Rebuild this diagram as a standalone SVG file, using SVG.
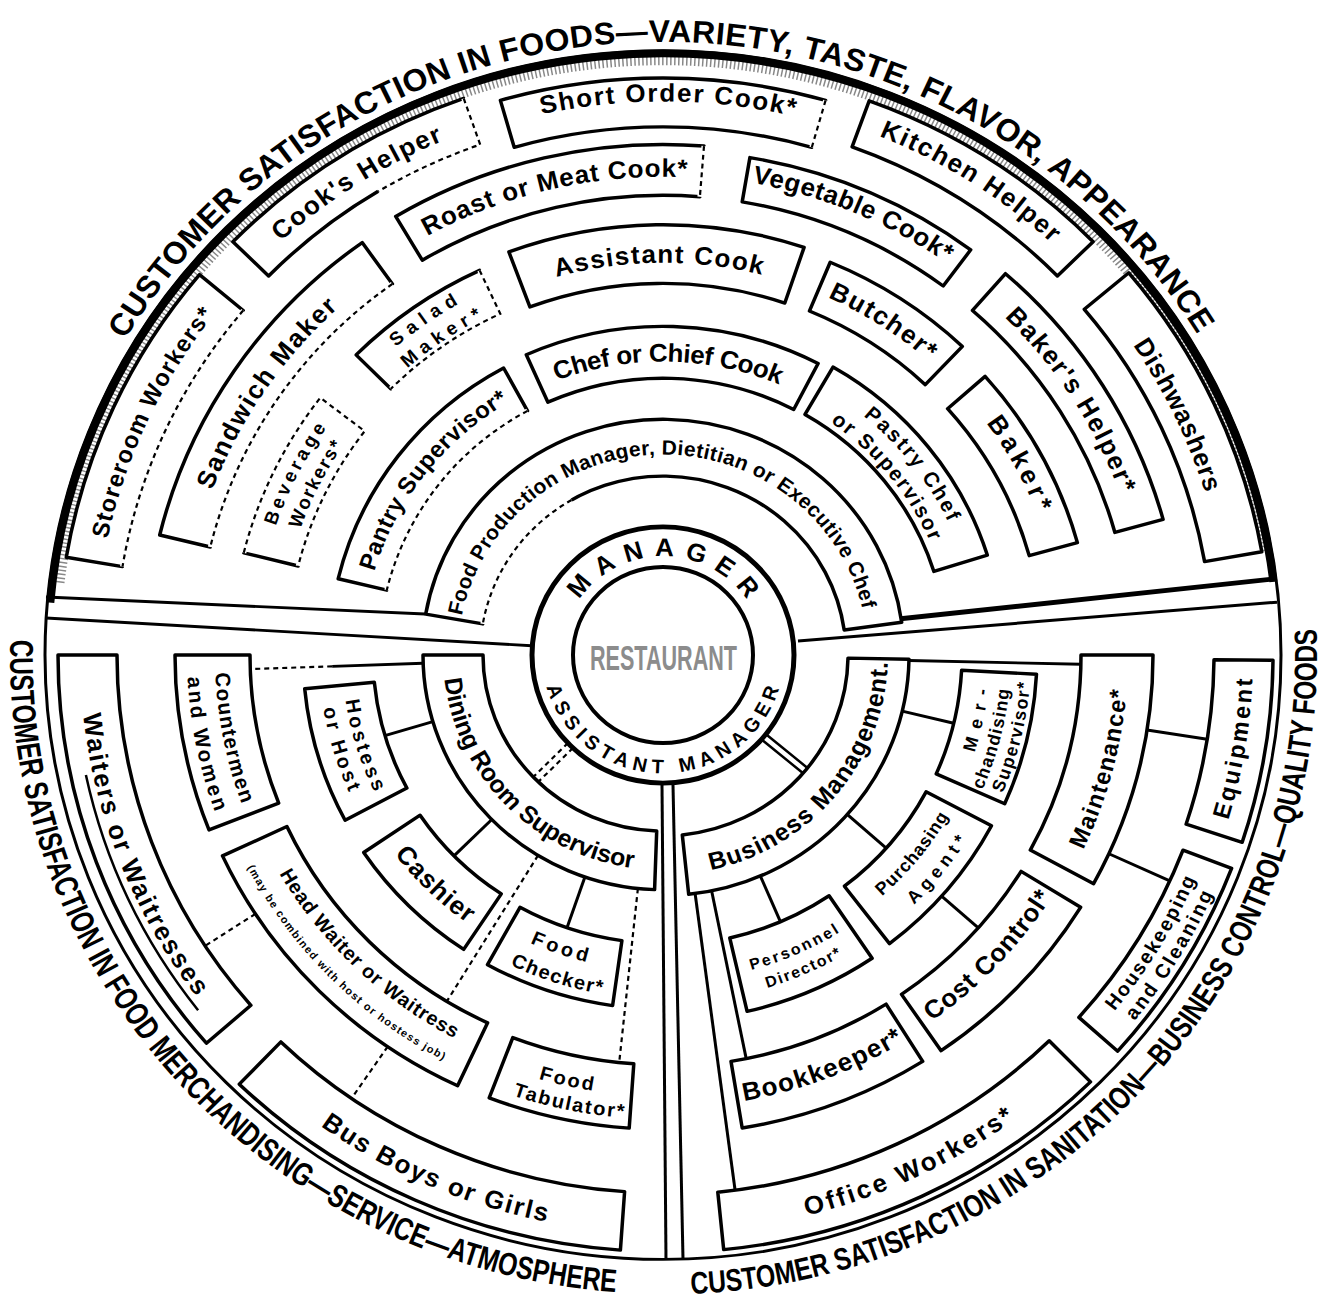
<svg xmlns="http://www.w3.org/2000/svg" width="1337" height="1303" viewBox="0 0 1337 1303">
<style>
.bx{fill:#fff;stroke:#000;stroke-width:3.5;stroke-linejoin:round}
.ln{fill:none;stroke:#000;stroke-width:3}
.dl{fill:none;stroke:#000;stroke-width:2.2;stroke-dasharray:5 4}
.wp{fill:none;stroke:#fff;stroke-width:5}
.t{font-family:"Liberation Sans",Arial,sans-serif;font-weight:bold;fill:#000;text-anchor:middle}
</style>
<defs>
<path id="t101" d="M-101,0 A101,101 0 0 1 101,0"/>
<path id="t205" d="M-205,0 A205,205 0 0 1 205,0"/>
<path id="t291" d="M-291,0 A291,291 0 0 1 291,0"/>
<path id="t300" d="M-300,0 A300,300 0 0 1 300,0"/>
<path id="t301" d="M-301,0 A301,301 0 0 1 301,0"/>
<path id="t316" d="M-316,0 A316,316 0 0 1 316,0"/>
<path id="t385" d="M-385,0 A385,385 0 0 1 385,0"/>
<path id="t389" d="M-389,0 A389,389 0 0 1 389,0"/>
<path id="t401" d="M-401,0 A401,401 0 0 1 401,0"/>
<path id="t409" d="M-409,0 A409,409 0 0 1 409,0"/>
<path id="t413" d="M-413,0 A413,413 0 0 1 413,0"/>
<path id="t481" d="M-481,0 A481,481 0 0 1 481,0"/>
<path id="t486" d="M-486,0 A486,486 0 0 1 486,0"/>
<path id="t489" d="M-489,0 A489,489 0 0 1 489,0"/>
<path id="t491" d="M-491,0 A491,491 0 0 1 491,0"/>
<path id="t566" d="M-566,0 A566,566 0 0 1 566,0"/>
<path id="t567" d="M-567,0 A567,567 0 0 1 567,0"/>
<path id="t568" d="M-568,0 A568,568 0 0 1 568,0"/>
<path id="t570" d="M-570,0 A570,570 0 0 1 570,0"/>
<path id="t573" d="M-573,0 A573,573 0 0 1 573,0"/>
<path id="t627" d="M-627,0 A627,627 0 0 1 627,0"/>
<path id="b121" d="M-121,0 A121,121 0 0 0 121,0"/>
<path id="b220" d="M-220,0 A220,220 0 0 0 220,0"/>
<path id="b225" d="M-225,0 A225,225 0 0 0 225,0"/>
<path id="b321" d="M-321,0 A321,321 0 0 0 321,0"/>
<path id="b323" d="M-323,0 A323,323 0 0 0 323,0"/>
<path id="b327" d="M-327,0 A327,327 0 0 0 327,0"/>
<path id="b330" d="M-330,0 A330,330 0 0 0 330,0"/>
<path id="b334" d="M-334,0 A334,334 0 0 0 334,0"/>
<path id="b337" d="M-337,0 A337,337 0 0 0 337,0"/>
<path id="b344" d="M-344,0 A344,344 0 0 0 344,0"/>
<path id="b348" d="M-348,0 A348,348 0 0 0 348,0"/>
<path id="b352" d="M-352,0 A352,352 0 0 0 352,0"/>
<path id="b356" d="M-356,0 A356,356 0 0 0 356,0"/>
<path id="b358" d="M-358,0 A358,358 0 0 0 358,0"/>
<path id="b368" d="M-368,0 A368,368 0 0 0 368,0"/>
<path id="b444" d="M-444,0 A444,444 0 0 0 444,0"/>
<path id="b448" d="M-448,0 A448,448 0 0 0 448,0"/>
<path id="b451" d="M-451,0 A451,451 0 0 0 451,0"/>
<path id="b461" d="M-461,0 A461,461 0 0 0 461,0"/>
<path id="b463" d="M-463,0 A463,463 0 0 0 463,0"/>
<path id="b465" d="M-465,0 A465,465 0 0 0 465,0"/>
<path id="b469" d="M-469,0 A469,469 0 0 0 469,0"/>
<path id="b475" d="M-475,0 A475,475 0 0 0 475,0"/>
<path id="b476" d="M-476,0 A476,476 0 0 0 476,0"/>
<path id="b580" d="M-580,0 A580,580 0 0 0 580,0"/>
<path id="b583" d="M-583,0 A583,583 0 0 0 583,0"/>
<path id="b590" d="M-590,0 A590,590 0 0 0 590,0"/>
<path id="b591" d="M-591,0 A591,591 0 0 0 591,0"/>
<path id="b602" d="M-602,0 A602,602 0 0 0 602,0"/>
<path id="b653" d="M-653,0 A653,653 0 0 0 653,0"/>
<path id="b654" d="M-654,0 A654,654 0 0 0 654,0"/>
</defs>
<rect width="1337" height="1303" fill="#fff"/>
<g transform="translate(663 655) scale(1 0.978)">

<g id="frame">
<path d="M-603.5,-74 A608,608 0 0 1 598.8,-105.4" fill="none" stroke="#888" stroke-width="10" stroke-dasharray="1.5 2.5"/>
<circle r="618" class="ln"/>
<path d="M-612.7,-53.6 A615,615 0 0 1 610.4,-74.9" fill="none" stroke="#000" stroke-width="8"/>
<path class="ln" d="M-617,-59.3 L-238,-41.9"/>
<path class="ln" d="M-617,-37.8 L-127,-9.2"/>
<path class="ln" style="stroke-width:5" d="M200,-33 L613,-78"/>
<path class="ln" d="M135,-14.3 L614,-54"/>
<path class="ln" d="M-1,133 L3,618"/>
<path class="ln" d="M10,133 L20,617.7"/>
<text class="t" font-size="32" transform="rotate(-0.3)"><textPath href="#t627" startOffset="50%" textLength="1286" lengthAdjust="spacing">CUSTOMER SATISFACTION IN FOODS—VARIETY, TASTE, FLAVOR, APPEARANCE</textPath></text>
<text class="t" font-size="33" transform="rotate(47.75)"><textPath href="#b653" startOffset="50%" textLength="994" lengthAdjust="spacingAndGlyphs">CUSTOMER SATISFACTION IN FOOD MERCHANDISING—SERVICE—ATMOSPHERE</textPath></text>
<text class="t" font-size="32" transform="rotate(-47.4)"><textPath href="#b654" startOffset="50%" textLength="1026" lengthAdjust="spacingAndGlyphs">CUSTOMER SATISFACTION IN SANITATION—BUSINESS CONTROL—QUALITY FOODS</textPath></text>
</g>

<g id="connectors">
<path class="ln" d="M-239.9,8.4 L-330.8,11.6"/>
<path class="dl" d="M-330.8,11.6 L-412.7,14.4"/>
<path class="ln" d="M-230.1,68.2 L-278.1,82.4"/>
<path class="ln" d="M-171.2,168.2 L-209,205.4"/>
<path class="ln" d="M-78.1,226.9 L-96,278.9"/>
<path class="dl" d="M-125,204.9 L-216.2,354.2"/>
<path class="dl" d="M-25.1,238.7 L-43.8,416.7"/>
<path class="dl" d="M-407.6,264.7 L-457.9,297.4"/>
<path class="dl" d="M-275.3,400.5 L-311.5,453.3"/>
<path class="dl" d="M-90.1,95.1 L-124.8,129.8 M-95.1,90.1 L-129.8,124.8"/>
<path class="ln" d="M245.9,5.6 L417.9,9.5"/>
<path class="ln" d="M239.2,57.4 L290.7,69.8"/>
<path class="ln" d="M184.2,163 L223.2,197.5"/>
<path class="ln" d="M97.3,225.9 L117.5,272.8"/>
<path class="ln" d="M278.6,246.5 L315.3,279"/>
<path class="ln" d="M484,76.7 L544.2,86.2"/>
<path class="ln" d="M445.9,203.2 L506.8,231"/>
<path class="ln" d="M48.6,241.1 L83.2,412.7"/>
<path class="ln" d="M32.1,243.9 L72.1,547.3"/>
<path class="ln" style="stroke-width:2.5" d="M103,81 L144.5,115.5 M98.6,86.4 L140.1,120.9"/>
</g>

<g id="n-storeroom"><path class="bx" d="M-596.7,-99.9 A605,605 0 0 1 -463.5,-388.9 L-419.8,-352.2 A548,548 0 0 0 -540.5,-90.4 Z"/>
<path class="wp" d="M-419.8,-352.2 A548,548 0 0 0 -540.5,-90.4"/><path class="dl" d="M-419.8,-352.2 A548,548 0 0 0 -540.5,-90.4"/>
<text class="t" font-size="24" transform="rotate(-65.1)"><textPath href="#t568" startOffset="50%" textLength="255" lengthAdjust="spacing">Storeroom Workers*</textPath></text></g>

<g id="n-cookshelper"><path class="bx" d="M-430.1,-422.6 A603,603 0 0 1 -199.3,-569.1 L-182.8,-521.9 A553,553 0 0 0 -394.4,-387.6 Z"/>
<path class="wp" d="M-199.3,-569.1 L-182.8,-521.9 A553,553 0 0 0 -284.8,-474"/><path class="dl" d="M-199.3,-569.1 L-182.8,-521.9 A553,553 0 0 0 -284.8,-474"/>
<text class="t" font-size="26" transform="rotate(-32.4)"><textPath href="#t570" startOffset="50%" textLength="193" lengthAdjust="spacing">Cook's Helper</textPath></text></g>

<g id="n-shortorder"><path class="bx" d="M-162.6,-567.1 A590,590 0 0 1 162.6,-567.1 L148.8,-519.1 A540,540 0 0 0 -148.8,-519.1 Z"/>
<path class="wp" d="M162.6,-567.1 L148.8,-519.1"/><path class="dl" d="M162.6,-567.1 L148.8,-519.1"/>
<text class="t" font-size="26" transform="rotate(0.5)"><textPath href="#t566" startOffset="50%" textLength="255" lengthAdjust="spacing">Short Order Cook*</textPath></text></g>

<g id="n-kitchenhelper"><path class="bx" d="M206.2,-566.6 A603,603 0 0 1 430.1,-422.6 L394.4,-387.6 A553,553 0 0 0 189.1,-519.6 Z"/>
<text class="t" font-size="26" transform="rotate(32.4)"><textPath href="#t573" startOffset="50%" textLength="205" lengthAdjust="spacing">Kitchen Helper</textPath></text></g>

<g id="n-dishwashers"><path class="bx" d="M465.8,-390.8 A608,608 0 0 1 598.8,-105.6 L541.6,-95.5 A550,550 0 0 0 421.3,-353.5 Z"/>
<text class="t" font-size="26" transform="rotate(64.5)"><textPath href="#t567" startOffset="50%" textLength="168" lengthAdjust="spacing">Dishwashers</textPath></text></g>

<g id="n-sandwich"><path class="bx" d="M-503.3,-122.7 A518,518 0 0 1 -300.8,-421.7 L-270.6,-379.4 A466,466 0 0 0 -452.7,-110.4 Z"/>
<path class="wp" d="M-270.6,-379.4 A466,466 0 0 0 -452.7,-110.4"/><path class="dl" d="M-270.6,-379.4 A466,466 0 0 0 -452.7,-110.4"/>
<text class="t" font-size="26" transform="rotate(-56)"><textPath href="#t481" startOffset="50%" textLength="227" lengthAdjust="spacing">Sandwich Maker</textPath></text></g>

<g id="n-roast"><path class="bx" d="M-267.3,-448.4 A522,522 0 0 1 41,-520.4 L36.9,-468.6 A470,470 0 0 0 -240.7,-403.7 Z"/>
<path class="wp" d="M41,-520.4 L36.9,-468.6"/><path class="dl" d="M41,-520.4 L36.9,-468.6"/>
<text class="t" font-size="26" transform="rotate(-13)"><textPath href="#t489" startOffset="50%" textLength="270" lengthAdjust="spacing">Roast or Meat Cook*</textPath></text></g>

<g id="n-vegetable"><path class="bx" d="M86.9,-508.6 A516,516 0 0 1 307.7,-414.3 L280.2,-377.3 A470,470 0 0 0 79.2,-463.3 Z"/>
<text class="t" font-size="26" transform="rotate(22.8)"><textPath href="#t491" startOffset="50%" textLength="212" lengthAdjust="spacing">Vegetable Cook*</textPath></text></g>

<g id="n-bakershelper"><path class="bx" d="M342.5,-389.9 A519,519 0 0 1 500.1,-138.7 L451.9,-125.3 A469,469 0 0 0 309.5,-352.3 Z"/>
<text class="t" font-size="26" transform="rotate(57.4)"><textPath href="#t486" startOffset="50%" textLength="216" lengthAdjust="spacing">Baker's Helper*</textPath></text></g>

<g id="n-beverage"><path class="bx" d="M-419.2,-104.5 A432,432 0 0 1 -342.7,-263 L-298.3,-228.9 A376,376 0 0 0 -364.8,-91 Z"/>
<path class="wp" d="M-419.2,-104.5 A432,432 0 0 1 -342.7,-263 L-298.3,-228.9 A376,376 0 0 0 -364.8,-91"/><path class="dl" d="M-419.2,-104.5 A432,432 0 0 1 -342.7,-263 L-298.3,-228.9 A376,376 0 0 0 -364.8,-91"/>
<text class="t" font-size="19" transform="rotate(-63.3)"><textPath href="#t409" startOffset="50%" textLength="113" lengthAdjust="spacing">Beverage</textPath></text>
<text class="t" font-size="19" transform="rotate(-63.3)"><textPath href="#t385" startOffset="50%" textLength="96" lengthAdjust="spacing">Workers*</textPath></text></g>

<g id="n-salad"><path class="bx" d="M-306.9,-306.9 A434,434 0 0 1 -183.4,-393.3 L-162.7,-348.9 A385,385 0 0 0 -272.2,-272.2 Z"/>
<path class="wp" d="M-183.4,-393.3 L-162.7,-348.9 A385,385 0 0 0 -272.2,-272.2"/><path class="dl" d="M-183.4,-393.3 L-162.7,-348.9 A385,385 0 0 0 -272.2,-272.2"/>
<text class="t" font-size="19" transform="rotate(-35)"><textPath href="#t413" startOffset="50%" textLength="77" lengthAdjust="spacing">Salad</textPath></text>
<text class="t" font-size="19" transform="rotate(-34.4)"><textPath href="#t389" startOffset="50%" textLength="91" lengthAdjust="spacing">Maker*</textPath></text></g>

<g id="n-assistantcook"><path class="bx" d="M-154.1,-412.1 A440,440 0 0 1 141.1,-416.8 L121.8,-359.9 A380,380 0 0 0 -133.1,-355.9 Z"/>
<text class="t" font-size="26" transform="rotate(-0.6)"><textPath href="#t401" startOffset="50%" textLength="208" lengthAdjust="spacing">Assistant Cook</textPath></text></g>

<g id="n-butcher"><path class="bx" d="M167.2,-401.6 A435,435 0 0 1 299.4,-315.5 L262.3,-276.4 A381,381 0 0 0 146.4,-351.7 Z"/>
<text class="t" font-size="26" transform="rotate(32.8)"><textPath href="#t401" startOffset="50%" textLength="120" lengthAdjust="spacing">Butcher*</textPath></text></g>

<g id="n-baker"><path class="bx" d="M322.1,-284.9 A430,430 0 0 1 414.4,-114.9 L366.2,-101.6 A380,380 0 0 0 284.6,-251.8 Z"/>
<text class="t" font-size="26" transform="rotate(61.2)"><textPath href="#t401" startOffset="50%" textLength="105" lengthAdjust="spacing">Baker*</textPath></text></g>

<g id="n-pantry"><path class="bx" d="M-324.8,-78 A334,334 0 0 1 -159.4,-293.5 L-135.5,-249.6 A284,284 0 0 0 -276.2,-66.3 Z"/>
<path class="wp" d="M-135.5,-249.6 A284,284 0 0 0 -276.2,-66.3"/><path class="dl" d="M-135.5,-249.6 A284,284 0 0 0 -276.2,-66.3"/>
<text class="t" font-size="24" transform="rotate(-52.2)"><textPath href="#t301" startOffset="50%" textLength="224" lengthAdjust="spacing">Pantry Supervisor*</textPath></text></g>

<g id="n-chef"><path class="bx" d="M-136.7,-307 A336,336 0 0 1 155.1,-298 L130.7,-251 A283,283 0 0 0 -115.1,-258.5 Z"/>
<text class="t" font-size="26" transform="rotate(1)"><textPath href="#t300" startOffset="50%" textLength="228" lengthAdjust="spacing">Chef or Chief Cook</textPath></text></g>

<g id="n-pastry"><path class="bx" d="M170,-294.4 A340,340 0 0 1 324.3,-102.2 L270.9,-85.4 A284,284 0 0 0 142,-246 Z"/>
<text class="t" font-size="21" transform="rotate(51.9)"><textPath href="#t316" startOffset="50%" textLength="139" lengthAdjust="spacing">Pastry Chef</textPath></text>
<text class="t" font-size="21" transform="rotate(50.8)"><textPath href="#t291" startOffset="50%" textLength="159" lengthAdjust="spacing">or Supervisor</textPath></text></g>

<g id="n-foodprod"><path class="bx" d="M-237.3,-41.8 A241,241 0 0 1 238.7,-33.5 L181.2,-25.5 A183,183 0 0 0 -180.2,-31.8 Z"/>
<path class="wp" d="M-91.5,-158.5 A183,183 0 0 0 -180.2,-31.8"/><path class="dl" d="M-91.5,-158.5 A183,183 0 0 0 -180.2,-31.8"/>
<text class="t" font-size="21" transform="rotate(-1)"><textPath href="#t205" startOffset="50%" textLength="556" lengthAdjust="spacing">Food Production Manager, Dietitian or Executive Chef</textPath></text></g>

<g id="n-business"><path class="bx" d="M246,4.3 A246,246 0 0 1 25.7,244.7 L19.3,184 A185,185 0 0 0 185,3.2 Z"/>
<text class="t" font-size="25" transform="rotate(-50.2)"><textPath href="#b225" startOffset="50%" textLength="298" lengthAdjust="spacing">Business Management.</textPath></text></g>

<g id="n-merch"><path class="bx" d="M373.5,19.6 A374,374 0 0 1 341.7,152.1 L273.2,121.6 A299,299 0 0 0 298.6,15.6 Z"/>
<text class="t" font-size="18" transform="rotate(-78)"><textPath href="#b327" startOffset="50%" textLength="66" lengthAdjust="spacing">Mer-</textPath></text>
<text class="t" font-size="18" transform="rotate(-75.4)"><textPath href="#b348" startOffset="50%" textLength="107" lengthAdjust="spacing">chandising</textPath></text>
<text class="t" font-size="18" transform="rotate(-76.5)"><textPath href="#b368" startOffset="50%" textLength="117" lengthAdjust="spacing">Supervisor*</textPath></text></g>

<g id="n-purchasing"><path class="bx" d="M328.5,174.6 A372,372 0 0 1 226.5,295.1 L181.4,236.4 A298,298 0 0 0 263.1,139.9 Z"/>
<text class="t" font-size="18" transform="rotate(-50.8)"><textPath href="#b330" startOffset="50%" textLength="106" lengthAdjust="spacing">Purchasing</textPath></text>
<text class="t" font-size="18" transform="rotate(-51.3)"><textPath href="#b358" startOffset="50%" textLength="85" lengthAdjust="spacing">Agent*</textPath></text></g>

<g id="n-personnel"><path class="bx" d="M209.1,310.1 A374,374 0 0 1 84.1,364.4 L66.8,289.4 A297,297 0 0 0 166.1,246.2 Z"/>
<text class="t" font-size="16" transform="rotate(-23.6)"><textPath href="#b334" startOffset="50%" textLength="97" lengthAdjust="spacing">Personnel</textPath></text>
<text class="t" font-size="16" transform="rotate(-23.6)"><textPath href="#b356" startOffset="50%" textLength="82" lengthAdjust="spacing">Director*</textPath></text></g>

<g id="n-maintenance"><path class="bx" d="M490,0 A490,490 0 0 1 430.6,233.8 L367.3,199.5 A418,418 0 0 0 418,0 Z"/>
<text class="t" font-size="24" transform="rotate(-75.1)"><textPath href="#b465" startOffset="50%" textLength="170" lengthAdjust="spacing">Maintenance*</textPath></text></g>

<g id="n-costcontrol"><path class="bx" d="M417.6,258 A491,491 0 0 1 278.1,404.6 L238.5,347 A421,421 0 0 0 358.1,221.2 Z"/>
<text class="t" font-size="26" transform="rotate(-46.6)"><textPath href="#b461" startOffset="50%" textLength="176" lengthAdjust="spacing">Cost Control*</textPath></text></g>

<g id="n-bookkeeper"><path class="bx" d="M259.7,415.5 A490,490 0 0 1 79.2,483.6 L68,415.5 A421,421 0 0 0 223.1,357 Z"/>
<text class="t" font-size="26" transform="rotate(-20.7)"><textPath href="#b463" startOffset="50%" textLength="172" lengthAdjust="spacing">Bookkeeper*</textPath></text></g>

<g id="n-equipment"><path class="bx" d="M610,5.3 A610,610 0 0 1 579.2,191.5 L523.1,173 A551,551 0 0 0 551,4.8 Z"/>
<text class="t" font-size="24" transform="rotate(-80.5)"><textPath href="#b590" startOffset="50%" textLength="147" lengthAdjust="spacing">Equipment</textPath></text></g>

<g id="n-housekeeping"><path class="bx" d="M568.6,218.2 A609,609 0 0 1 454.7,405.1 L415.9,370.5 A557,557 0 0 0 520,199.6 Z"/>
<text class="t" font-size="20" transform="rotate(-58.9)"><textPath href="#b580" startOffset="50%" textLength="158" lengthAdjust="spacing">Housekeeping</textPath></text>
<text class="t" font-size="20" transform="rotate(-58.8)"><textPath href="#b602" startOffset="50%" textLength="152" lengthAdjust="spacing">and Cleaning</textPath></text></g>

<g id="n-office"><path class="bx" d="M427.5,436.5 A611,611 0 0 1 60.7,608 L54.8,549.3 A552,552 0 0 0 386.2,394.4 Z"/>
<text class="t" font-size="26" transform="rotate(-25.3)"><textPath href="#b591" startOffset="50%" textLength="232" lengthAdjust="spacing">Office Workers*</textPath></text></g>

<g id="n-dining"><path class="bx" d="M-8.4,239.9 A240,240 0 0 1 -240,0 L-180,0 A180,180 0 0 0 -6.3,179.9 Z"/>
<text class="t" font-size="25" transform="rotate(45.7)"><textPath href="#b220" startOffset="50%" textLength="291" lengthAdjust="spacing">Dining Room Supervisor</textPath></text></g>

<g id="n-foodchecker"><path class="bx" d="M-50.4,358.5 A362,362 0 0 1 -175.5,316.6 L-143,258 A295,295 0 0 0 -41.1,292.1 Z"/>
<text class="t" font-size="20" transform="rotate(19)"><textPath href="#b323" startOffset="50%" textLength="60" lengthAdjust="spacing">Food</textPath></text>
<text class="t" font-size="20" transform="rotate(17.9)"><textPath href="#b352" startOffset="50%" textLength="97" lengthAdjust="spacing">Checker*</textPath></text></g>

<g id="n-cashier"><path class="bx" d="M-199.3,301 A361,361 0 0 1 -299.3,201.9 L-242.9,163.8 A293,293 0 0 0 -161.7,244.3 Z"/>
<text class="t" font-size="26" transform="rotate(44.2)"><textPath href="#b337" startOffset="50%" textLength="102" lengthAdjust="spacing">Cashier</textPath></text></g>

<g id="n-hostess"><path class="bx" d="M-317.9,169 A360,360 0 0 1 -358.3,34.5 L-288.7,27.8 A290,290 0 0 0 -256.1,136.1 Z"/>
<text class="t" font-size="20" transform="rotate(72.9)"><textPath href="#b321" startOffset="50%" textLength="99" lengthAdjust="spacing">Hostess</textPath></text>
<text class="t" font-size="20" transform="rotate(73.4)"><textPath href="#b344" startOffset="50%" textLength="90" lengthAdjust="spacing">or Host</textPath></text></g>

<g id="n-tabulator"><path class="bx" d="M-33.8,483.8 A485,485 0 0 1 -173.8,452.8 L-150.2,391.2 A419,419 0 0 0 -29.2,418 Z"/>
<text class="t" font-size="20" transform="rotate(12.5)"><textPath href="#b451" startOffset="50%" textLength="56" lengthAdjust="spacing">Food</textPath></text>
<text class="t" font-size="20" transform="rotate(11.6)"><textPath href="#b475" startOffset="50%" textLength="114" lengthAdjust="spacing">Tabulator*</textPath></text></g>

<g id="n-headwaiter"><path class="bx" d="M-205.4,440.5 A486,486 0 0 1 -440.5,205.4 L-376.1,175.4 A415,415 0 0 0 -175.4,376.1 Z"/>
<text class="t" font-size="20" transform="rotate(43.9)"><textPath href="#b444" startOffset="50%" textLength="246" lengthAdjust="spacing">Head Waiter or Waitress</textPath></text>
<text class="t" font-size="11" transform="rotate(45.2)"><textPath href="#b469" startOffset="50%" textLength="282" lengthAdjust="spacing">(may be combined with host or hostess job)</textPath></text></g>

<g id="n-countermen"><path class="bx" d="M-454,178.9 A488,488 0 0 1 -488,0 L-413,0 A413,413 0 0 0 -384.3,151.4 Z"/>
<text class="t" font-size="21" transform="rotate(78.9)"><textPath href="#b448" startOffset="50%" textLength="137" lengthAdjust="spacing">Countermen</textPath></text>
<text class="t" font-size="21" transform="rotate(78.8)"><textPath href="#b476" startOffset="50%" textLength="141" lengthAdjust="spacing">and Women</textPath></text></g>

<g id="n-busboys"><path class="bx" d="M-42.6,608.5 A610,610 0 0 1 -423.7,438.8 L-382.1,395.6 A550,550 0 0 0 -38.4,548.7 Z"/>
<text class="t" font-size="26" transform="rotate(23.4)"><textPath href="#b591" startOffset="50%" textLength="248" lengthAdjust="spacing">Bus Boys or Girls</textPath></text></g>

<g id="n-waiters"><path class="bx" d="M-456.6,396.9 A605,605 0 0 1 -605,0 L-546,0 A546,546 0 0 0 -412.1,358.2 Z"/>
<path class="ln" style="stroke-width:2.5" d="M-577.1,122.7 A590,590 0 0 0 -464.9,363.2"/>
<text class="t" font-size="26" transform="rotate(68.6)"><textPath href="#b583" startOffset="50%" textLength="314" lengthAdjust="spacing">Waiters or Waitresses</textPath></text></g>

<g id="n-manager">
<circle r="131" fill="#fff" stroke="#000" stroke-width="5"/>
<circle r="90" fill="#fff" stroke="#000" stroke-width="4"/>
<text class="t" font-size="26"><textPath href="#t101" startOffset="50%" textLength="197" lengthAdjust="spacing">MANAGER</textPath></text>
<text class="t" font-size="20" transform="rotate(0.5)"><textPath href="#b121" startOffset="50%" textLength="312" lengthAdjust="spacing">ASSISTANT MANAGER</textPath></text>
<text class="t" x="0.5" y="15.3" font-size="36" textLength="147" lengthAdjust="spacingAndGlyphs" style="fill:#8c8c8c">RESTAURANT</text>
</g>
</g>
</svg>
